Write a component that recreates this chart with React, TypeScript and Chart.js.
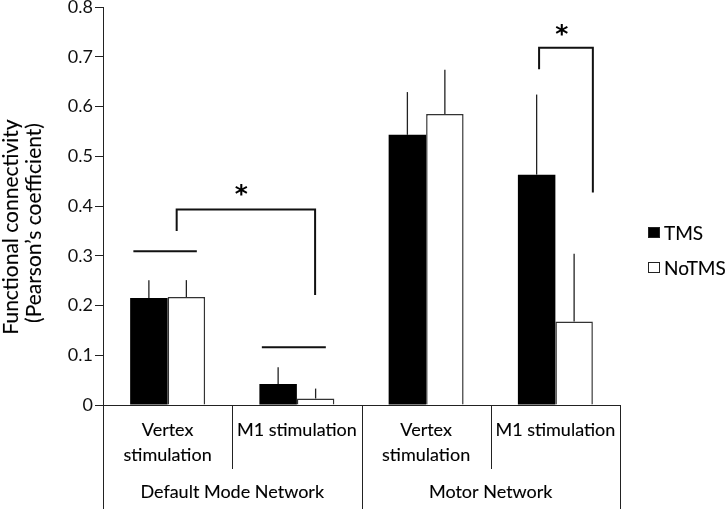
import React, { useEffect, useRef } from "react";
import { Chart, registerables } from "chart.js";

Chart.register(...registerables);

// ---------- data ----------
const groupLabels = ["Default Mode Network", "Motor Network"];
const conditionLabels = [["Vertex", "stimulation"], ["M1 stimulation"], ["Vertex", "stimulation"], ["M1 stimulation"]];
const categories = ["DMN Vertex", "DMN M1", "Motor Vertex", "Motor M1"];
const seriesNames = ["TMS", "NoTMS"];
const tmsValues = [0.215, 0.042, 0.543, 0.463];
const tmsErrors = [0.036, 0.034, 0.086, 0.161];
const noTmsValues = [0.217, 0.013, 0.585, 0.168];
const noTmsErrors = [0.034, 0.02, 0.089, 0.136];
const yTicks = [0, 0.1, 0.2, 0.3, 0.4, 0.5, 0.6, 0.7, 0.8];
const yTitle = ["Functional connectivity", "(Pearson\u2019s coefficient)"];

// annotation positions in data units (category index, value)
const hLines = [
  { from: -0.265, to: 0.226, y: 0.309 },
  { from: 0.729, to: 1.224, y: 0.116 },
];
const brackets = [
  { x1: 0.07, x2: 1.141, top: 0.393, leftEnd: 0.35, rightEnd: 0.221, starX: 0.569, starY: 0.436 },
  { x1: 2.874, x2: 3.29, top: 0.718, leftEnd: 0.675, rightEnd: 0.427, starX: 3.05, starY: 0.758 },
];

const FONT = "Lato, 'Open Sans', sans-serif";
const INK = "#000";

function text(ctx: any, t: string, x: number, y: number) {
  ctx.fillText(t, x, y);
  ctx.lineWidth = 0.12;
  ctx.strokeStyle = INK;
  ctx.strokeText(t, x, y);
}

const overlay = {
  id: "overlay",
  afterDatasetsDraw(chart: any) {
    const { ctx, scales, chartArea } = chart;
    const x = scales.x;
    const y = scales.y;
    const c0 = x.getPixelForValue(0);
    const cw = x.getPixelForValue(1) - c0;
    const px = (v: number) => c0 + v * cw;
    const py = (v: number) => y.getPixelForValue(v);
    const errs = [tmsErrors, noTmsErrors];

    ctx.save();
    // error bars
    ctx.strokeStyle = "#222";
    ctx.lineWidth = 1.3;
    chart.data.datasets.forEach((ds: any, di: number) => {
      const meta = chart.getDatasetMeta(di);
      meta.data.forEach((el: any, i: number) => {
        const v = ds.data[i];
        const top = py(v + errs[di][i]);
        ctx.beginPath();
        ctx.moveTo(el.x, el.y);
        ctx.lineTo(el.x, top);
        ctx.stroke();
      });
    });

    // horizontal lines
    ctx.strokeStyle = "#111";
    ctx.lineWidth = 2;
    hLines.forEach((l) => {
      ctx.beginPath();
      ctx.moveTo(px(l.from), py(l.y));
      ctx.lineTo(px(l.to), py(l.y));
      ctx.stroke();
    });

    // brackets + stars
    brackets.forEach((b) => {
      ctx.strokeStyle = "#111";
      ctx.lineWidth = 2;
      ctx.beginPath();
      ctx.moveTo(px(b.x1), py(b.leftEnd));
      ctx.lineTo(px(b.x1), py(b.top));
      ctx.lineTo(px(b.x2), py(b.top));
      ctx.lineTo(px(b.x2), py(b.rightEnd));
      ctx.stroke();
      ctx.fillStyle = INK;
      ctx.font = `bold 25px 'DejaVu Sans', sans-serif`;
      ctx.textAlign = "center";
      ctx.textBaseline = "alphabetic";
      ctx.fillText("*", px(b.starX), py(b.starY) + 25 * 0.55);
    });

    // category separators and labels
    const bottom = chartArea.bottom;
    const H = chart.height;
    ctx.strokeStyle = "#222";
    ctx.lineWidth = 1;
    for (let i = 0; i <= categories.length; i++) {
      const sx = Math.round(px(i - 0.5)) + 0.5;
      const outer = i % 2 === 0;
      ctx.beginPath();
      ctx.moveTo(sx, bottom);
      ctx.lineTo(sx, outer ? H : bottom + 64);
      ctx.stroke();
    }
    ctx.fillStyle = INK;
    ctx.font = `18px ${FONT}`;
    ctx.textAlign = "center";
    ctx.textBaseline = "middle";
    conditionLabels.forEach((lines, i) => {
      lines.forEach((t, k) => text(ctx, t, px(i), bottom + 25 + k * 25));
    });
    groupLabels.forEach((t, g) => {
      text(ctx, t, px(g * 2 + 0.5), bottom + 87);
    });

    // y title
    ctx.font = `21px ${FONT}`;
    const titleY = [227, 223];
    yTitle.forEach((t, k) => {
      ctx.save();
      ctx.translate(11.5 + k * 22.5, titleY[k]);
      ctx.rotate(-Math.PI / 2);
      text(ctx, t, 0, 0);
      ctx.restore();
    });

    // legend
    const fills = ["#000", "#fff"];
    seriesNames.forEach((name, k) => {
      const cy = 232.5 + k * 35;
      ctx.fillStyle = fills[k];
      ctx.fillRect(648, cy - 5.5, 12, 11);
      ctx.strokeStyle = "#222";
      ctx.lineWidth = 1;
      ctx.strokeRect(648.5, cy - 5, 11, 10);
      ctx.fillStyle = INK;
      ctx.textAlign = "left";
      ctx.font = `19px ${FONT}`;
      text(ctx, name, 664, cy + 1);
    });
    ctx.restore();
  },
};

export default function App() {
  const ref = useRef<HTMLCanvasElement | null>(null);
  useEffect(() => {
    document.body.style.margin = "0";
    if (!ref.current) return;
    const chart = new Chart(ref.current, {
      type: "bar",
      data: {
        labels: categories,
        datasets: [
          {
            label: seriesNames[0],
            data: tmsValues,
            backgroundColor: "#000",
            borderWidth: 0,
            categoryPercentage: 0.58,
            barPercentage: 1,
          },
          {
            label: seriesNames[1],
            data: noTmsValues,
            backgroundColor: "#fff",
            borderColor: "#333",
            borderWidth: 1.5,
            borderSkipped: "bottom",
            categoryPercentage: 0.58,
            barPercentage: 1,
          },
        ],
      },
      options: {
        responsive: false,
        animation: false,
        layout: { padding: { left: 0, top: 7, right: 105, bottom: 0 } },
        plugins: { legend: { display: false }, tooltip: { enabled: false }, title: { display: false } },
        scales: {
          x: {
            grid: { display: false },
            ticks: { display: false },
            border: { display: true, color: "#222", width: 1 },
            afterFit: (s: any) => {
              s.height = 104;
              s.paddingLeft = 0;
              s.paddingRight = 0;
            },
          },
          y: {
            min: 0,
            max: 0.8,
            afterBuildTicks: (s: any) => {
              s.ticks = yTicks.map((v) => ({ value: v }));
            },
            ticks: {
              color: "#111",
              font: { family: FONT, size: 18 },
              padding: 2,
              callback: (v: any) => (Number(v) === 0 ? "0" : Number(v).toFixed(1)),
            },
            grid: { display: true, drawOnChartArea: false, drawTicks: true, tickLength: 8, color: "#222" },
            border: { display: true, color: "#222", width: 1 },
            afterFit: (s: any) => {
              s.width = 103;
              s.paddingTop = 0;
              s.paddingBottom = 0;
            },
          },
        },
      },
      plugins: [overlay],
    });
    return () => chart.destroy();
  }, []);
  return (
    <div style={{ position: "absolute", left: 0, top: 0 }}>
      <canvas ref={ref} width={725} height={509} style={{ display: "block" }} />
    </div>
  );
}
